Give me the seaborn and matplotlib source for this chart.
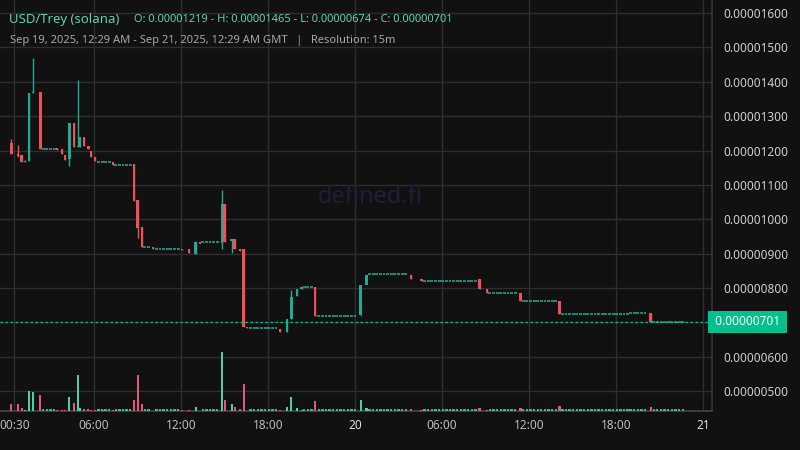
import numpy as np
import matplotlib
matplotlib.use("Agg")
import matplotlib.pyplot as plt
import seaborn as sns

# hours since Sep 19 2025 00:00 GMT; prices in units of 1e-8
c_time = [0.28, 0.76, 1.03, 1.24, 1.52, 1.79, 2.28, 3.45, 3.79, 4.0, 4.28, 4.62, 4.9, 5.03, 5.31, 5.59,
          5.79, 6.07, 6.62, 7.31, 8.76, 9.03, 9.31, 10.07, 12.07, 12.55, 13.03, 13.31, 14.83, 15.03, 15.5,
          15.72, 16.07, 16.34, 16.55, 18.83, 19.31, 19.59, 20.0, 20.34, 21.24, 24.4, 24.8, 27.86, 28.6,
          32.6, 33.1, 35.4, 38.1, 44.4]
c_open = [1222, 1190, 1187, 1167, 1169, 1367, 1370, 1207, 1204, 1187, 1175, 1280, 1210, 1210, 1239, 1213,
          1199, 1181, 1170, 1167, 1160, 1056, 977, 919, 913, 913, 899, 933, 931, 1044, 936,
          942, 913, 913, 686, 680, 672, 710, 777, 797, 803, 720, 809, 838, 825,
          826, 797, 785, 763, 727]
c_close = [1190, 1184, 1167, 1170, 1367, 1370, 1204, 1201, 1190, 1173, 1280, 1210, 1213, 1239, 1213, 1204,
           1181, 1170, 1167, 1158, 1053, 974, 919, 913, 910, 901, 933, 931, 1044, 933, 942,
           913, 907, 686, 683, 672, 710, 774, 797, 803, 718, 809, 838, 825, 820,
           797, 785, 763, 723, 701]
c_high = [1234, 1216, 1187, 1172, 1367, 1469, 1370, 1207, 1204, 1187, 1280, 1280, 1405, 1239, 1239, 1213,
          1199, 1181, 1170, 1167, 1160, 1056, 977, 919, 913, 913, 936, 933, 1085, 1044, 942,
          942, 913, 913, 686, 680, 710, 794, 797, 803, 803, 720, 809, 838, 825,
          826, 797, 785, 763, 727]
c_low = [1190, 1180, 1167, 1167, 1169, 1367, 1204, 1201, 1190, 1173, 1155, 1210, 1210, 1210, 1213, 1204,
         1181, 1170, 1167, 1158, 1053, 945, 919, 913, 910, 901, 899, 931, 913, 933, 901,
         913, 907, 686, 683, 672, 672, 710, 777, 797, 718, 718, 809, 825, 820,
         797, 785, 763, 723, 701]
c_vol = [7, 7, 3, 1.5, 20, 19, 16, 1, 1.5, 1, 14, 8, 36, 3, 2.5, 2,
         1.5, 1.5, 1, 1.5, 11, 36, 7, 0.5, 1, 1.5, 4.5, 0.5, 59, 11, 7.5,
         4, 2, 27, 0.5, 1.5, 4.5, 14, 3.5, 1.5, 10, 11, 3.5, 2.5, 1.5,
         3.5, 1.5, 3.5, 5.5, 4]

# flat stretches of no-change candles: start hour, end hour, price
flat_start = [2.5, 6.3, 7.5, 9.5, 10.3, 13.5, 16.8, 20.5, 21.5, 25.0, 28.8, 33.3, 35.6, 38.3, 43.0, 44.6]
flat_end = [3.3, 7.1, 8.6, 9.9, 11.9, 14.7, 18.7, 21.1, 24.2, 27.7, 32.4, 35.2, 37.9, 42.8, 44.2, 46.8]
flat_price = [1205, 1167, 1158, 919, 913, 933, 683, 803, 718, 840, 820, 785, 763, 723, 727, 701]

y_ticks = [500, 600, 800, 900, 1000, 1100, 1200, 1300, 1400, 1500, 1600]
x_ticks = [0.5, 6, 12, 18, 24, 30, 36, 42, 48]
x_labels = ["00:30", "06:00", "12:00", "18:00", "20", "06:00", "12:00", "18:00", "21"]
last_price = 701

sns.set_theme(style="dark")
plt.rcParams["font.family"] = ["Noto Sans", "DejaVu Sans"]
BG = "#111111"
GREEN = "#22ab94"
RED = "#f0505a"
VGREEN = "#4fcfa6"
VRED = "#e05a78"

fig = plt.figure(figsize=(8, 4.5), dpi=100, facecolor=BG)
ax = fig.add_axes([0, 1 - 411 / 450, 712 / 800, 411 / 450])
ax.set_facecolor(BG)
ax.set_xlim(-0.483, 48.62)
ax.set_ylim(442, 1638)

for v in y_ticks + [700]:
    ax.axhline(v, color="#2e2e2e", lw=1, zorder=0)
for t in x_ticks:
    ax.axvline(t, color="#2e2e2e", lw=1, zorder=0)

ax.text(0.52, 0.52, "defined.fi", transform=ax.transAxes, ha="center", va="center",
        fontsize=17, color="#1f1f3a", zorder=0)

vol = ax.twinx()
vol.set_ylim(0, 411)
vol.set_xlim(ax.get_xlim())
vol.set_yticks([])
vol.grid(False)

w = 0.2
for t, o, c, h, l, v in zip(c_time, c_open, c_close, c_high, c_low, c_vol):
    col = GREEN if c >= o else RED
    ax.vlines(t, l, h, color=col, lw=1, zorder=3)
    hgt = abs(c - o)
    if hgt < 2.5:
        ax.hlines((o + c) / 2, t - w / 2, t + w / 2, color=col, lw=1.3, zorder=3)
    else:
        ax.bar(t, hgt, bottom=min(o, c), width=w, color=col, zorder=3, linewidth=0)
    vol.bar(t, v, width=0.17, color=VGREEN if c >= o else VRED, linewidth=0)

for s, e, p in zip(flat_start, flat_end, flat_price):
    for t in np.arange(s, e + 0.01, 0.25):
        ax.hlines(p, t - w / 2, t + w / 2, color=GREEN, lw=1.1, zorder=2)
        vol.hlines(0.8, t - 0.08, t + 0.08, color=VGREEN, lw=1.2)

ax.axhline(last_price, color="#00c08b", lw=0.9, ls=(0, (2, 2)), zorder=4)

ax.yaxis.tick_right()
ax.set_yticks(y_ticks)
ax.set_yticklabels([f"{v * 1e-8:.8f}" for v in y_ticks], color="#cfcfcf", fontsize=8.5)
ax.tick_params(axis="y", length=0, pad=8)
ax.set_xticks(x_ticks)
ax.set_xticklabels(x_labels, color="#bdbdbd", fontsize=8.5)
ax.tick_params(axis="x", length=0, pad=6)
for lbl, txt in zip(ax.get_xticklabels(), x_labels):
    if txt in ("20", "21"):
        lbl.set_fontweight("bold")
        lbl.set_color("#e0e0e0")
for sp in ax.spines.values():
    sp.set_visible(False)
for sp in vol.spines.values():
    sp.set_visible(False)
ax.spines["right"].set_visible(True)
ax.spines["right"].set_color("#333333")
ax.spines["bottom"].set_visible(True)
ax.spines["bottom"].set_color("#444444")

ax.text(1.0, last_price, f" {last_price * 1e-8:.8f} ", transform=ax.get_yaxis_transform(),
        ha="left", va="center", fontsize=8.5, color="white", zorder=6,
        bbox=dict(boxstyle="square,pad=0.35", fc="#00c08b", ec="none"))

fig.text(9 / 800, 1 - 20 / 450, "USD/Trey (solana)", color="#5fd3b0", fontsize=9.5, va="center")
fig.text(134 / 800, 1 - 20 / 450, "O: 0.00001219 - H: 0.00001465 - L: 0.00000674 - C: 0.00000701",
         color="#5fd3b0", fontsize=8, va="center")
fig.text(10 / 800, 1 - 41 / 450, "Sep 19, 2025, 12:29 AM - Sep 21, 2025, 12:29 AM GMT   |   Resolution: 15m",
         color="#a8a8a8", fontsize=8, va="center")

fig.savefig("out.png", dpi=100, facecolor=BG)
